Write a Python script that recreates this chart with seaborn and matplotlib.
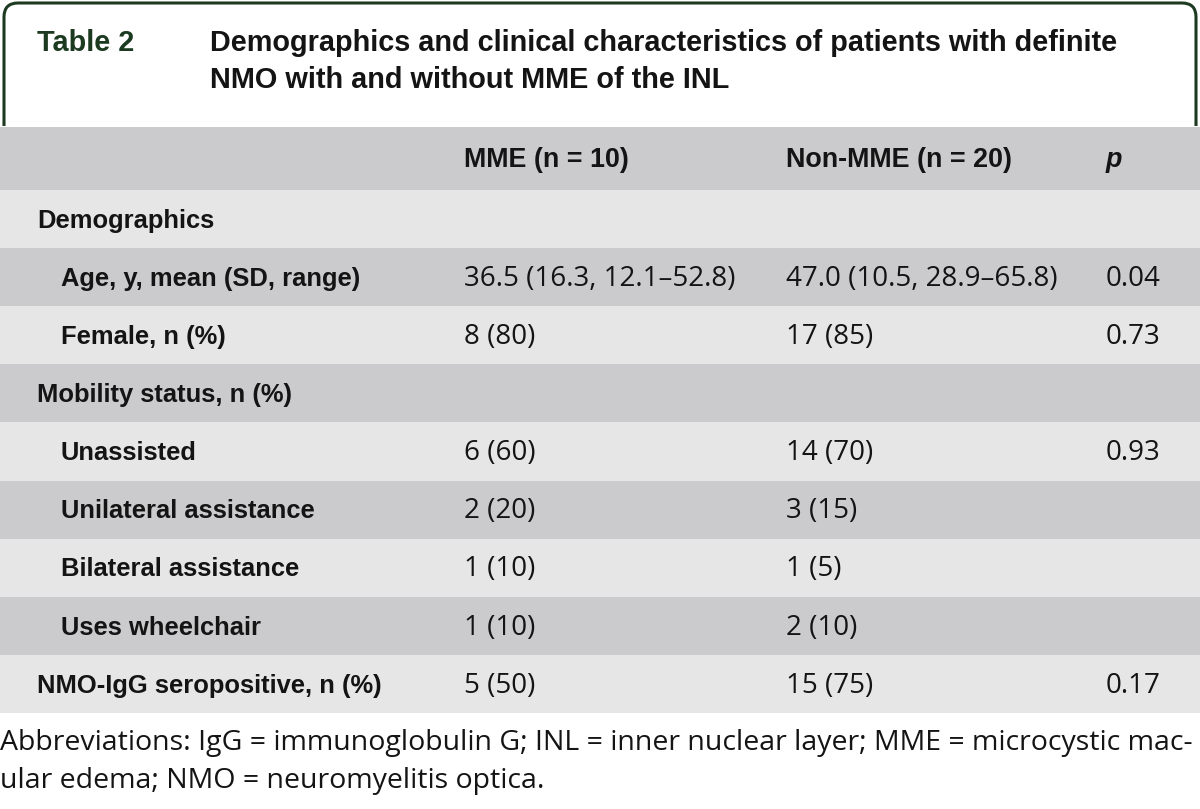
import matplotlib
matplotlib.use("Agg")
import matplotlib.pyplot as plt
from matplotlib.colors import ListedColormap
from matplotlib.path import Path
from matplotlib.patches import PathPatch
import numpy as np
import seaborn as sns

# table content
table_no = "Table 2"
title_lines = [
    "Demographics and clinical characteristics of patients with definite",
    "NMO with and without MME of the INL",
]
col_headers = ["MME (n = 10)", "Non-MME (n = 20)", "p"]
row_labels = [
    "Demographics",
    "Age, y, mean (SD, range)",
    "Female, n (%)",
    "Mobility status, n (%)",
    "Unassisted",
    "Unilateral assistance",
    "Bilateral assistance",
    "Uses wheelchair",
    "NMO-IgG seropositive, n (%)",
]
row_is_sub = [False, True, True, False, True, True, True, True, False]
mme = ["", "36.5 (16.3, 12.1–52.8)", "8 (80)", "", "6 (60)", "2 (20)", "1 (10)", "1 (10)", "5 (50)"]
non_mme = ["", "47.0 (10.5, 28.9–65.8)", "17 (85)", "", "14 (70)", "3 (15)", "1 (5)", "2 (10)", "15 (75)"]
p_vals = ["", "0.04", "0.73", "", "0.93", "", "", "", "0.17"]
footnote = [
    "Abbreviations: IgG = immunoglobulin G; INL = inner nuclear layer; MME = microcystic mac-",
    "ular edema; NMO = neuromyelitis optica.",
]

sns.set_theme(style="white")
plt.rcParams["font.family"] = ["Liberation Sans", "DejaVu Sans"]

W, H = 1200, 809
fig = plt.figure(figsize=(W / 100, H / 100), dpi=100)
fig.patch.set_facecolor("white")

band_cmap = ListedColormap(["#e6e6e7", "#cbcbcd"])
ink = "#141414"
bold_fs = 18.4
head_fs = 19.4
reg_font = ["Open Sans", "DejaVu Sans"]
reg_fs = 20
col_x = [464 / W, 786 / W, 1106 / W]

# header band
head_top, head_bot = 127, 190
axh = fig.add_axes([0, 1 - head_bot / H, 1, (head_bot - head_top) / H])
sns.heatmap(np.array([[1]]), cmap=band_cmap, vmin=0, vmax=1, cbar=False,
            xticklabels=False, yticklabels=False, ax=axh)
axh.set_xlim(0, 1)
for j, h in enumerate(col_headers):
    axh.text(col_x[j], 0.53, h, ha="left", va="center", fontsize=head_fs,
             fontweight="bold", style="italic" if h == "p" else "normal", color=ink)

# body bands: alternating light / dark
body_bot = 713
shade = np.array([[i % 2] for i in range(len(row_labels))])
ax = fig.add_axes([0, 1 - body_bot / H, 1, (body_bot - head_bot) / H])
sns.heatmap(shade, cmap=band_cmap, vmin=0, vmax=1, cbar=False,
            xticklabels=False, yticklabels=False, ax=ax)
ax.set_xlim(0, 1)

for i, lab in enumerate(row_labels):
    y = i + 0.53
    x0 = (61 if row_is_sub[i] else 37) / W
    ax.text(x0, y, lab, ha="left", va="center", fontsize=bold_fs, fontweight="bold", color=ink)
    for j, val in enumerate([mme[i], non_mme[i], p_vals[i]]):
        if val:
            ax.text(col_x[j], y, val, ha="left", va="center", fontsize=reg_fs,
                    family=reg_font, color=ink)

# header frame, title and footnote in pixel coordinates
ov = fig.add_axes([0, 0, 1, 1], facecolor="none")
ov.set_xlim(0, W)
ov.set_ylim(H, 0)
ov.axis("off")

green = "#1c3a1f"
r = 14
verts = [(4, 126), (4, 3 + r), (4, 3), (4 + r, 3), (W - 4 - r, 3), (W - 4, 3),
         (W - 4, 3 + r), (W - 4, 126)]
codes = [Path.MOVETO, Path.LINETO, Path.CURVE3, Path.CURVE3, Path.LINETO,
         Path.CURVE3, Path.CURVE3, Path.LINETO]
ov.add_patch(PathPatch(Path(verts, codes), fill=False, edgecolor=green, lw=2.2))

ov.text(37, 43, table_no, ha="left", va="center", fontsize=20.8, fontweight="bold", color=green)
for k, line in enumerate(title_lines):
    ov.text(210, 43 + 37 * k, line, ha="left", va="center", fontsize=20.8,
            fontweight="bold", color=ink)

for k, line in enumerate(footnote):
    ov.text(0, 743 + 38 * k, line, ha="left", va="center", fontsize=20.5,
            family=reg_font, color=ink)

fig.savefig("out.png", dpi=100, facecolor="white")
